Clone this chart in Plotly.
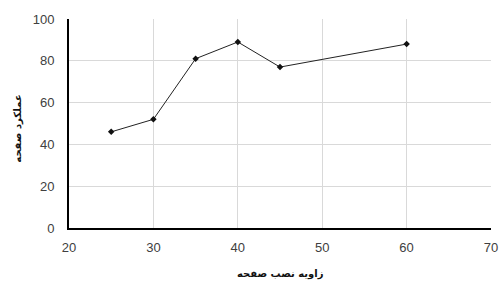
import plotly.graph_objects as go

angles = [25, 30, 35, 40, 45, 60]
performance = [46, 52, 81, 89, 77, 88]
x_ticks = [20, 30, 40, 50, 60, 70]
y_ticks = [0, 20, 40, 60, 80, 100]
x_title = "زاویه نصب صفحه"
y_title = "عملکرد صفحه"

fig = go.Figure()
fig.add_trace(go.Scatter(
    x=angles, y=performance, mode="lines+markers",
    line=dict(color="#222222", width=1),
    marker=dict(symbol="diamond", size=5, color="#111111"),
    showlegend=False,
))
fig.update_layout(
    width=501, height=284,
    margin=dict(l=69, r=10, t=19, b=56, autoexpand=False),
    plot_bgcolor="white", paper_bgcolor="white",
    font=dict(family="Liberation Sans, Arial", size=13, color="#404040"),
)
fig.update_xaxes(
    range=[20, 70], tickvals=x_ticks, ticks="", showgrid=True, automargin=False,
    gridcolor="#d9d9d9", gridwidth=1, showline=True, linecolor="black", linewidth=2,
    zeroline=False, ticklabelstandoff=6,
)
fig.update_yaxes(
    range=[0, 100], tickvals=y_ticks, ticks="", showgrid=True, automargin=False,
    gridcolor="#d9d9d9", gridwidth=1, showline=True, linecolor="black", linewidth=2,
    zeroline=False, ticklabelstandoff=10,
)
fig.add_annotation(
    text="<b>" + x_title + "</b>", xref="paper", yref="paper",
    x=0.5, y=-0.22, yanchor="middle", xanchor="center", showarrow=False,
    font=dict(family="DejaVu Sans", size=10, color="#111111"),
)
fig.add_annotation(
    text="<b>" + y_title + "</b>", xref="paper", yref="paper",
    x=-0.121, y=0.475, yanchor="middle", xanchor="center", showarrow=False, textangle=-90,
    font=dict(family="DejaVu Sans", size=10, color="#111111"),
)
fig.write_html("out.html", config={"displayModeBar": False},
               post_script="document.body.style.margin='0';document.body.style.padding='0';")
